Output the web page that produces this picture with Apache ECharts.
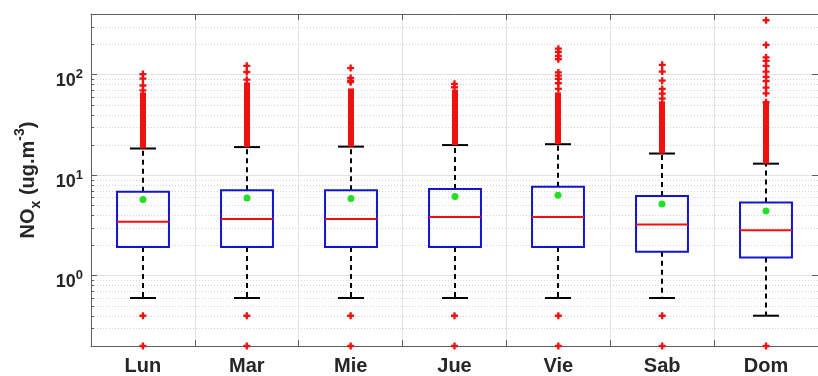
<!DOCTYPE html>
<html>
<head>
<meta charset="utf-8">
<script src="https://cdn.jsdelivr.net/npm/echarts@6/dist/echarts.min.js"></script>
<style>
  html, body { margin: 0; padding: 0; background: #fff; }
  #chart { width: 818px; height: 376px; }
</style>
</head>
<body>
<div id="chart"></div>
<script>
// Daily NOx distribution per weekday (box = quartiles, whiskers, mean dot, outliers)
const categories = ['Lun', 'Mar', 'Mie', 'Jue', 'Vie', 'Sab', 'Dom'];
const whiskerLow  = [0.6, 0.6, 0.6, 0.6, 0.6, 0.6, 0.4];
const q1          = [1.93, 1.93, 1.93, 1.93, 1.93, 1.73, 1.52];
const median      = [3.44, 3.66, 3.66, 3.83, 3.83, 3.22, 2.83];
const q3          = [6.85, 7.06, 7.06, 7.27, 7.67, 6.2, 5.34];
const whiskerHigh = [18.4, 19.0, 19.2, 19.9, 20.3, 16.4, 13.0];
const mean        = [5.72, 5.93, 5.85, 6.12, 6.3, 5.17, 4.39];
// upper end of the unbroken run of outliers sitting on each upper whisker
const denseTop    = [62, 78, 68, 66, 62, 50.6, 49.4];
// separated outliers above the dense run
const outliersHigh = [
  [69.5, 77.8, 91, 101],
  [89, 106, 122],
  [84, 87, 92.6, 116],
  [74.8, 80.9],
  [72, 82, 90.5, 97.5, 105, 142, 153, 168, 181],
  [57.6, 64.5, 72, 87, 107, 125],
  [53, 65, 74, 86, 95, 107, 122, 137, 148, 197, 347]
];
const outliersLow = [[0.2, 0.4], [0.2, 0.4], [0.2, 0.4], [0.2, 0.4], [0.2, 0.4], [0.2, 0.4], [0.2]];
const yMin = 0.2;
const yMax = 400;
const minorValues = [0.3, 0.4, 0.5, 0.6, 0.7, 0.8, 0.9, 2, 3, 4, 5, 6, 7, 8, 9,
                     20, 30, 40, 50, 60, 70, 80, 90, 200, 300];

const FONT = 'Liberation Sans, Arial, Helvetica, sans-serif';
const AXIS_COLOR = '#5e5e5e';
const TEXT_COLOR = '#262626';
const BOX_BLUE = '#1414d2';
const RED = '#f01010';
const GREEN = '#22e022';
const PLUS = 'path://M-1,-3H1V-1H3V1H1V3H-1V1H-3V-1H-1Z';

const boxData = categories.map((c, i) =>
  [i, whiskerLow[i], q1[i], median[i], q3[i], whiskerHigh[i], mean[i]]);
const denseData = categories.map((c, i) => [i, whiskerHigh[i], denseTop[i]]);
const outlierData = [];
categories.forEach((c, i) => {
  outliersHigh[i].forEach(v => outlierData.push([i, v]));
  outliersLow[i].forEach(v => outlierData.push([i, v]));
});
const minorData = minorValues.map(v => [0, v]);

function renderMinor(params, api) {
  const cs = params.coordSys;
  const y = Math.round(api.coord([0, api.value(1)])[1]) + 0.5;
  return {
    type: 'group',
    children: [
      { type: 'line', shape: { x1: cs.x, y1: y, x2: cs.x + cs.width, y2: y },
        style: { stroke: '#d4d4d4', lineWidth: 1, lineDash: [1, 2] } },
      { type: 'line', shape: { x1: cs.x, y1: y, x2: cs.x + 3, y2: y },
        style: { stroke: AXIS_COLOR, lineWidth: 1 } }
    ]
  };
}

function renderBox(params, api) {
  const i = api.value(0);
  const band = api.size([1, 0])[0];
  const cx = Math.round(api.coord([i, 1])[0]);
  const yOf = v => api.coord([i, v])[1];
  const yLo = yOf(api.value(1)), yQ1 = yOf(api.value(2)), yMed = yOf(api.value(3));
  const yQ3 = yOf(api.value(4)), yHi = yOf(api.value(5)), yMean = yOf(api.value(6));
  const hb = band * 0.25;   // half box width
  const hc = band * 0.125;  // half cap width
  const dash = { stroke: '#000', lineWidth: 2, lineDash: [5, 4] };
  const solid = { stroke: '#000', lineWidth: 2 };
  return {
    type: 'group',
    children: [
      { type: 'line', shape: { x1: cx, y1: yQ3, x2: cx, y2: yHi }, style: dash },
      { type: 'line', shape: { x1: cx, y1: yQ1, x2: cx, y2: yLo }, style: dash },
      { type: 'line', shape: { x1: cx - hc, y1: yHi, x2: cx + hc, y2: yHi }, style: solid },
      { type: 'line', shape: { x1: cx - hc, y1: yLo, x2: cx + hc, y2: yLo }, style: solid },
      { type: 'rect', shape: { x: cx - hb, y: yQ3, width: 2 * hb, height: yQ1 - yQ3 },
        style: { fill: 'none', stroke: BOX_BLUE, lineWidth: 2 } },
      { type: 'line', shape: { x1: cx - hb, y1: yMed, x2: cx + hb, y2: yMed },
        style: { stroke: RED, lineWidth: 2 } },
      { type: 'circle', shape: { cx: cx, cy: yMean, r: 3.5 }, style: { fill: GREEN } }
    ]
  };
}

function renderDense(params, api) {
  const i = api.value(0);
  const cx = Math.round(api.coord([i, 1])[0]);
  const yBottom = api.coord([i, api.value(1)])[1];
  const yTop = api.coord([i, api.value(2)])[1];
  return {
    type: 'rect',
    shape: { x: cx - 3, y: yTop - 3, width: 6, height: yBottom - yTop + 3 },
    style: { fill: RED }
  };
}

const chart = echarts.init(document.getElementById('chart'), null, { renderer: 'canvas' });

const logAxisBase = {
  type: 'log',
  logBase: 10,
  min: yMin,
  max: yMax,
  axisLine: { show: true, lineStyle: { color: AXIS_COLOR, width: 1 } },
  axisTick: { show: true, inside: true, length: 6, lineStyle: { color: AXIS_COLOR } },
  minorTick: { show: false },
  minorSplitLine: { show: false }
};

chart.setOption({
  animation: false,
  backgroundColor: '#fff',
  grid: { left: 91, right: -6, top: 14, bottom: 29, containLabel: false },
  xAxis: [
    {
      type: 'category',
      data: categories,
      position: 'bottom',
      boundaryGap: true,
      axisLine: { show: true, lineStyle: { color: AXIS_COLOR, width: 1 } },
      axisTick: { show: true, inside: true, length: 6, interval: 0, lineStyle: { color: AXIS_COLOR } },
      axisLabel: { interval: 0, margin: 10, fontSize: 20, fontWeight: 'bold', color: TEXT_COLOR, fontFamily: FONT },
      splitLine: { show: true, interval: 0, lineStyle: { color: '#e2e2e2', width: 1 } }
    },
    {
      type: 'category',
      data: categories,
      position: 'top',
      boundaryGap: true,
      axisLine: { show: true, lineStyle: { color: AXIS_COLOR, width: 1 } },
      axisTick: { show: true, inside: true, length: 6, interval: 0, lineStyle: { color: AXIS_COLOR } },
      axisLabel: { show: false },
      splitLine: { show: false }
    }
  ],
  yAxis: [
    Object.assign({}, logAxisBase, {
      position: 'left',
      name: '{b|NO}{sub|x}{b| (ug.m}{sup|-3}{b|)}',
      nameLocation: 'middle',
      nameRotate: 90,
      nameGap: 48,
      nameTextStyle: {
        color: TEXT_COLOR,
        fontFamily: FONT,
        fontWeight: 'bold',
        rich: {
          b: { fontSize: 20, lineHeight: 30, fontWeight: 'bold', fontFamily: FONT, color: TEXT_COLOR },
          sub: { fontSize: 14, lineHeight: 12, fontWeight: 'bold', fontFamily: FONT, color: TEXT_COLOR,
                 verticalAlign: 'bottom' },
          sup: { fontSize: 14, lineHeight: 14, fontWeight: 'bold', fontFamily: FONT, color: TEXT_COLOR,
                 verticalAlign: 'top' }
        }
      },
      axisLabel: {
        show: true,
        showMinLabel: false,
        showMaxLabel: false,
        margin: 8,
        padding: [13, 0, 0, 0],
        formatter: function (v) {
          const k = Math.round(Math.log10(v));
          return '{b|10}{s|' + k + '}';
        },
        rich: {
          b: { fontSize: 18, lineHeight: 26, fontWeight: 'bold', fontFamily: FONT, color: TEXT_COLOR },
          s: { fontSize: 13, lineHeight: 12, fontWeight: 'bold', fontFamily: FONT, color: TEXT_COLOR,
               verticalAlign: 'top' }
        }
      },
      splitLine: { show: true, lineStyle: { color: '#e2e2e2', width: 1 } }
    }),
    Object.assign({}, logAxisBase, {
      position: 'right',
      axisLabel: { show: false },
      splitLine: { show: false }
    })
  ],
  series: [
    {
      name: 'minor grid',
      type: 'custom',
      xAxisIndex: 0, yAxisIndex: 0,
      data: minorData,
      encode: { x: 0, y: 1 },
      renderItem: renderMinor,
      silent: true,
      z: 1
    },
    {
      name: 'box',
      type: 'custom',
      xAxisIndex: 0, yAxisIndex: 0,
      data: boxData,
      encode: { x: 0, y: [1, 2, 3, 4, 5, 6] },
      renderItem: renderBox,
      z: 3
    },
    {
      name: 'dense outliers',
      type: 'custom',
      xAxisIndex: 0, yAxisIndex: 0,
      data: denseData,
      encode: { x: 0, y: [1, 2] },
      renderItem: renderDense,
      z: 4
    },
    {
      name: 'outliers',
      type: 'scatter',
      xAxisIndex: 0, yAxisIndex: 0,
      data: outlierData,
      symbol: PLUS,
      symbolSize: 7,
      itemStyle: { color: RED, opacity: 1 },
      clip: false,
      z: 5
    }
  ]
});
</script>
</body>
</html>
